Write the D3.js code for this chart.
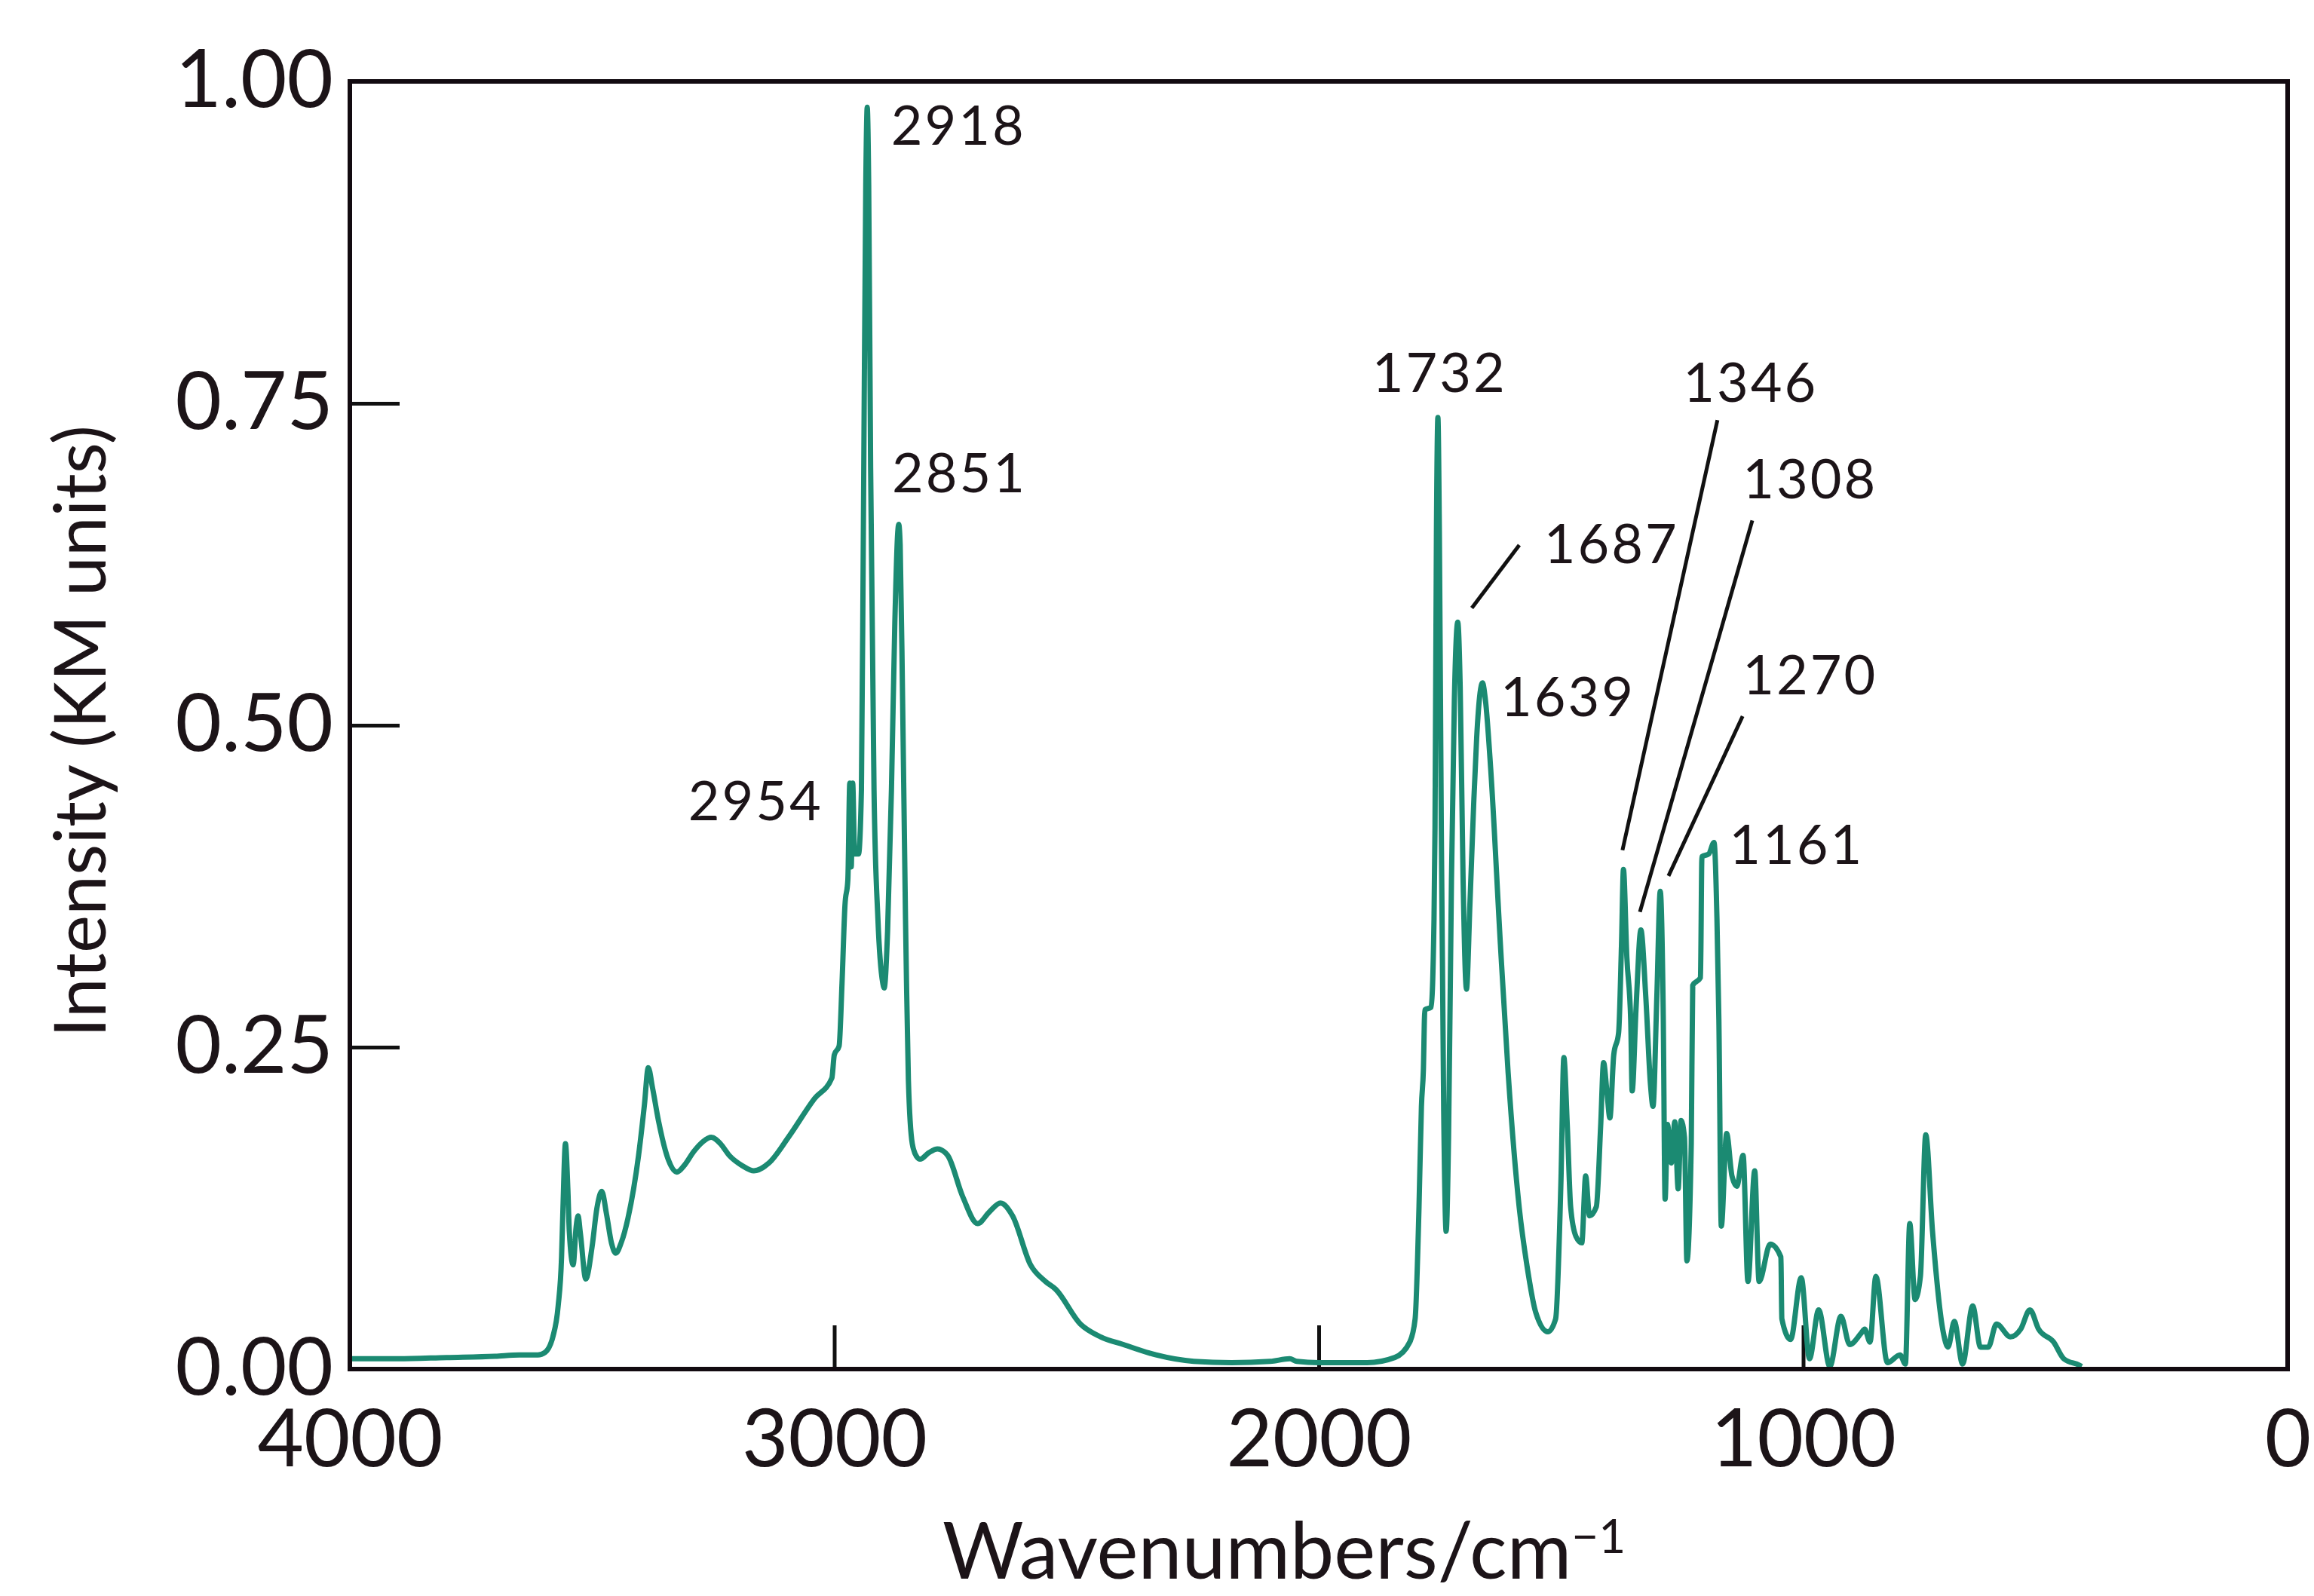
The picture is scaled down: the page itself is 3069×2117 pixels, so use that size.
<!DOCTYPE html>
<html>
<head>
<meta charset="utf-8">
<script src="https://cdn.jsdelivr.net/npm/d3@7"></script>
<style>
  body { margin: 0; background: #ffffff; }
  text { font-family: Lato, "Open Sans", sans-serif; fill: #1c1418; }
</style>
</head>
<body>
<div id="chart"></div>
<script>
// spectrum (wavenumber, KM intensity)
var wavenumbers = [4000, 3900, 3800, 3700, 3650, 3612, 3597, 3581, 3570, 3563, 3560, 3555, 3550, 3547, 3539, 3533, 3529, 3524, 3513, 3500,
  3490, 3480, 3470, 3460, 3451, 3440, 3426, 3404, 3392, 3384, 3375, 3363, 3342, 3325, 3310, 3290, 3270, 3254, 3235, 3217,
  3190, 3166, 3135, 3093, 3041, 3005, 3000, 2990, 2984, 2978, 2972, 2968, 2965, 2962, 2958, 2950, 2944, 2940, 2935, 2932,
  2929, 2925, 2918, 2910, 2900, 2897, 2890, 2882, 2875, 2869, 2867, 2864, 2859, 2853, 2851, 2847, 2839, 2830, 2823, 2805,
  2787, 2766, 2735, 2704, 2680, 2657, 2632, 2595, 2564, 2543, 2492, 2450, 2403, 2336, 2258, 2180, 2100, 2060, 2045, 2000,
  1900, 1843, 1812, 1801, 1793, 1788, 1784, 1781, 1768, 1762, 1760, 1757, 1754, 1751, 1747, 1742, 1737, 1732, 1726, 1720,
  1713, 1708, 1702, 1695, 1688, 1680, 1674, 1667, 1662, 1656, 1645, 1625, 1609, 1586, 1570, 1552, 1527, 1511, 1500, 1494,
  1487, 1480, 1469, 1457, 1449, 1441, 1427, 1418, 1412, 1405, 1399, 1391, 1381, 1375, 1371, 1364, 1356, 1353, 1345, 1335,
  1325, 1315, 1310, 1302, 1295, 1289, 1285, 1280, 1272, 1265, 1258, 1252, 1245, 1240, 1231, 1228, 1212, 1209, 1195, 1184,
  1178, 1174, 1169, 1158, 1147, 1137, 1124, 1114, 1100, 1091, 1068, 1046, 1044, 1026, 1004, 987, 968, 945, 922, 904,
  880, 873, 862, 850, 826, 800, 789, 780, 769, 758, 747, 733, 711, 701, 688, 671, 650, 634, 618, 601,
  572, 551, 532, 514, 483, 462, 430, 425];
var intensity = [0.008, 0.008, 0.009, 0.010, 0.011, 0.011, 0.013, 0.025, 0.049, 0.087, 0.126, 0.175, 0.140, 0.107, 0.081, 0.110, 0.119, 0.105, 0.070, 0.095,
  0.125, 0.138, 0.120, 0.098, 0.090, 0.098, 0.117, 0.166, 0.205, 0.234, 0.218, 0.193, 0.162, 0.153, 0.158, 0.169, 0.177, 0.180, 0.175, 0.166,
  0.158, 0.154, 0.160, 0.181, 0.210, 0.226, 0.244, 0.251, 0.300, 0.360, 0.380, 0.455, 0.390, 0.455, 0.400, 0.400, 0.450, 0.650, 0.920, 0.980,
  0.920, 0.700, 0.450, 0.350, 0.300, 0.296, 0.340, 0.450, 0.580, 0.650, 0.656, 0.640, 0.520, 0.350, 0.302, 0.224, 0.175, 0.165, 0.163, 0.168,
  0.171, 0.166, 0.134, 0.113, 0.122, 0.129, 0.119, 0.081, 0.068, 0.062, 0.035, 0.025, 0.019, 0.011, 0.006, 0.005, 0.006, 0.008, 0.006, 0.005,
  0.005, 0.009, 0.021, 0.039, 0.126, 0.204, 0.232, 0.279, 0.281, 0.350, 0.420, 0.650, 0.739, 0.650, 0.420, 0.200, 0.107, 0.180, 0.380, 0.520,
  0.580, 0.530, 0.380, 0.295, 0.360, 0.440, 0.490, 0.525, 0.533, 0.520, 0.466, 0.330, 0.230, 0.125, 0.080, 0.044, 0.029, 0.039, 0.146, 0.242,
  0.190, 0.126, 0.103, 0.098, 0.150, 0.119, 0.126, 0.189, 0.238, 0.215, 0.195, 0.244, 0.261, 0.330, 0.388, 0.320, 0.271, 0.216, 0.280, 0.341,
  0.290, 0.220, 0.204, 0.290, 0.371, 0.280, 0.132, 0.190, 0.160, 0.192, 0.140, 0.193, 0.180, 0.084, 0.175, 0.298, 0.304, 0.398, 0.400, 0.409,
  0.350, 0.271, 0.111, 0.183, 0.150, 0.142, 0.166, 0.068, 0.154, 0.068, 0.097, 0.087, 0.039, 0.023, 0.071, 0.008, 0.046, 0.002, 0.041, 0.019,
  0.028, 0.031, 0.021, 0.072, 0.005, 0.011, 0.004, 0.113, 0.054, 0.072, 0.182, 0.107, 0.029, 0.017, 0.037, 0.004, 0.049, 0.017, 0.017, 0.035,
  0.025, 0.031, 0.046, 0.031, 0.021, 0.008, 0.003, 0.002];

var xTicks = [4000, 3000, 2000, 1000, 0];
var yTicks = [0, 0.25, 0.5, 0.75, 1];

// peak labels: text, anchor point in data units, text-anchor
var peakNames = ["2918", "2851", "2954", "1732", "1687", "1639", "1346", "1308", "1270", "1161"];
var peakLabelW = [2883, 2881, 3023, 1890, 1535, 1625, 1248, 1125, 1125, 1153];
var peakLabelV = [0.951, 0.681, 0.426, 0.759, 0.626, 0.507, 0.751, 0.676, 0.524, 0.392];
var peakAnchor = ["start", "start", "end", "start", "start", "start", "start", "start", "start", "start"];

// leader lines [w1, v1, w2, v2]
var leaders = [
  [1586, 0.640, 1684, 0.591],
  [1177, 0.737, 1373, 0.403],
  [1105, 0.659, 1337, 0.355],
  [1125, 0.507, 1278, 0.383]
];

var W = 3069, H = 2117;
var margin = {top: 108, right: 35, bottom: 301, left: 464},
    width = W - margin.left - margin.right,
    height = H - margin.top - margin.bottom;

var svg = d3.select("#chart").append("svg")
    .attr("width", W)
    .attr("height", H)
    .append("g")
    .attr("transform", "translate(" + margin.left + "," + margin.top + ")");

var x = d3.scaleLinear().domain([4000, 0]).range([0, width]);
var y = d3.scaleLinear().domain([0, 1]).range([height, 0]);

var data = wavenumbers.map(function(w, i) { return {w: w, v: intensity[i]}; });

// y axis
var yAxis = svg.append("g")
    .call(d3.axisLeft(y).tickValues(yTicks).tickFormat(d3.format(".2f"))
        .tickSizeInner(-66).tickSizeOuter(0).tickPadding(22));
yAxis.select(".domain").remove();
yAxis.selectAll("line").attr("stroke", "#111").attr("stroke-width", 5);
yAxis.selectAll("text").style("font-size", "106px").attr("fill", "#1c1418");

// x axis
var xAxis = svg.append("g")
    .attr("transform", "translate(0," + height + ")")
    .call(d3.axisBottom(x).tickValues(xTicks).tickFormat(d3.format("d"))
        .tickSizeInner(-58).tickSizeOuter(0).tickPadding(54));
xAxis.select(".domain").remove();
xAxis.selectAll("line").attr("stroke", "#111").attr("stroke-width", 5);
xAxis.selectAll("text").style("font-size", "106px").attr("fill", "#1c1418");

// spectrum
svg.append("path")
    .datum(data)
    .attr("fill", "none")
    .attr("stroke", "#1b8a72")
    .attr("stroke-width", 7)
    .attr("stroke-linejoin", "round")
    .attr("d", d3.line()
        .x(function(d) { return x(d.w); })
        .y(function(d) { return y(d.v); })
        .curve(d3.curveMonotoneX));

// frame
svg.append("rect")
    .attr("width", width)
    .attr("height", height)
    .attr("fill", "none")
    .attr("stroke", "#120a10")
    .attr("stroke-width", 6);

// leader lines
svg.selectAll(".leader")
    .data(leaders)
    .enter().append("line")
    .attr("class", "leader")
    .attr("x1", function(d) { return x(d[0]); })
    .attr("y1", function(d) { return y(d[1]); })
    .attr("x2", function(d) { return x(d[2]); })
    .attr("y2", function(d) { return y(d[3]); })
    .attr("stroke", "#111")
    .attr("stroke-width", 5);

// peak labels
svg.selectAll(".peak")
    .data(peakNames)
    .enter().append("text")
    .attr("class", "peak")
    .attr("x", function(d, i) { return x(peakLabelW[i]); })
    .attr("y", function(d, i) { return y(peakLabelV[i]); })
    .attr("text-anchor", function(d, i) { return peakAnchor[i]; })
    .style("font-size", "72px")
    .style("letter-spacing", "3px")
    .text(function(d) { return d; });

// Y-Axis Label
svg.append("text")
    .attr("transform", "rotate(-90)")
    .attr("x", 0 - (970 - margin.top))
    .attr("y", 0 - margin.left + 140)
    .attr("text-anchor", "middle")
    .style("font-size", "95px")
    .text("Intensity (KM units)");

// X-Axis Label
var xl = svg.append("text")
    .attr("x", 1250 - margin.left)
    .attr("y", 2094 - margin.top)
    .style("font-size", "104px");
xl.append("tspan").text("Wavenumbers/cm");
xl.append("tspan").attr("dy", "-0.55em").style("font-size", "62px").text("\u22121");
</script>
</body>
</html>
